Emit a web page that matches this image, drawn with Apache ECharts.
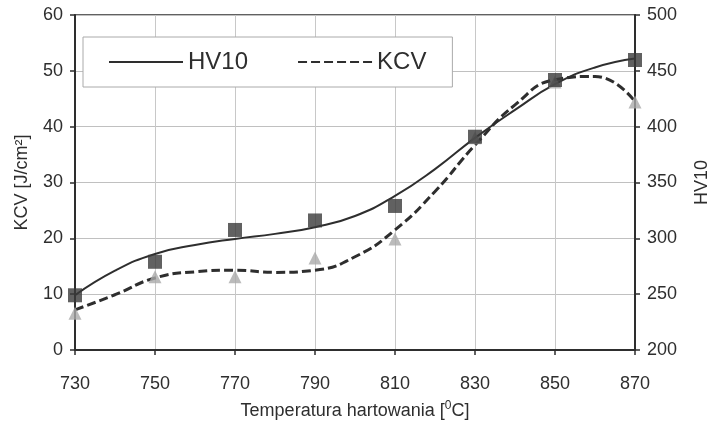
<!DOCTYPE html>
<html>
<head>
<meta charset="utf-8">
<script src="https://cdn.jsdelivr.net/npm/echarts@6/dist/echarts.min.js"></script>
<style>
  html, body { margin: 0; padding: 0; background: #fff; }
  #chart { width: 711px; height: 425px; }
</style>
</head>
<body>
<div id="chart"></div>
<script>
// temperatures every 10 degC, labels shown every 20
const temps = ['730', '740', '750', '760', '770', '780', '790', '800',
  '810', '820', '830', '840', '850', '860', '870'];

// measured points (only at 730, 750, ... 870)
const hvPoints = [249, null, 279, null, 307.5, null, 316, null,
  329, null, 391, null, 441.8, null, 459.7];
const kcvPoints = [6.6, null, 13.1, null, 13.1, null, 16.5, null,
  19.9, null, 38, null, 48, null, 44.4];

// trend curves
const hvTrend = [249, 271, 286, 294, 299.5, 304, 310, 320,
  338, 362, 390, 415, 438, 453, 461];
const kcvTrend = [7.2, 9.9, 12.9, 14.0, 14.3, 13.9, 14.3, 16.7,
  21.5, 28.4, 36.7, 43.9, 48.4, 49, 44.5];

const FONT = 'Liberation Sans';
const DARK = '#2e2e2e';

var myChart = echarts.init(document.getElementById('chart'), null, { renderer: 'canvas' });

let option = {
  backgroundColor: '#fff',
  animation: false,
  textStyle: { fontFamily: FONT, color: DARK },
  grid: {
    left: 75, right: 76, top: 15, bottom: 75,
    outerBoundsMode: 'none',
    show: true,
    borderColor: DARK,
    borderWidth: 1.5
  },
  legend: {
    data: ['HV10', 'KCV'],
    left: 83,
    top: 37,
    padding: [13, 26, 13, 25],
    itemWidth: 74,
    itemHeight: 24,
    itemGap: 49,
    backgroundColor: '#fff',
    borderColor: '#aaa',
    borderWidth: 1,
    itemStyle: { opacity: 0 },
    textStyle: { fontFamily: FONT, fontSize: 24, color: DARK }
  },
  xAxis: {
    type: 'category',
    data: temps,
    boundaryGap: false,
    name: 'Temperatura hartowania [{s|0}C]',
    nameLocation: 'middle',
    nameGap: 50,
    nameTextStyle: {
      fontFamily: FONT, fontSize: 18, color: DARK,
      rich: { s: { fontSize: 12, verticalAlign: 'bottom', padding: [0, 0, 10, 0], color: DARK } }
    },
    axisLine: { lineStyle: { color: DARK, width: 2 } },
    axisTick: { interval: 1, length: 5, lineStyle: { color: DARK, width: 1.5 } },
    axisLabel: { interval: 1, margin: 25, fontSize: 18, color: DARK },
    splitLine: { show: true, interval: 1, lineStyle: { color: '#c8c8c8', width: 1 } }
  },
  yAxis: [
    {
      type: 'value',
      min: 0, max: 60, interval: 10,
      name: 'KCV [J/cm²]',
      nameLocation: 'middle',
      nameRotate: 90,
      nameGap: 44,
      nameTextStyle: { fontFamily: FONT, fontSize: 18, color: DARK },
      axisLine: { show: true, lineStyle: { color: DARK, width: 2 } },
      axisTick: { show: true, length: 5, lineStyle: { color: DARK, width: 1.5 } },
      axisLabel: { margin: 12, fontSize: 18, color: DARK },
      splitLine: { show: true, lineStyle: { color: '#c0c0c0', width: 1 } }
    },
    {
      type: 'value',
      min: 200, max: 500, interval: 50,
      name: 'HV10',
      nameLocation: 'middle',
      nameRotate: 90,
      nameGap: 58,
      nameTextStyle: { fontFamily: FONT, fontSize: 18, color: DARK },
      axisLine: { show: true, lineStyle: { color: DARK, width: 2 } },
      axisTick: { show: true, length: 5, lineStyle: { color: DARK, width: 1.5 } },
      axisLabel: { margin: 12, fontSize: 18, color: DARK },
      splitLine: { show: false }
    }
  ],
  series: [
    {
      name: 'KCV',
      type: 'line',
      yAxisIndex: 0,
      data: kcvTrend,
      smooth: 0.5,
      symbol: 'none',
      z: 3,
      lineStyle: { color: DARK, width: 3, type: [9, 4] },
      itemStyle: { color: DARK }
    },
    {
      name: 'HV10',
      type: 'line',
      yAxisIndex: 1,
      data: hvTrend,
      smooth: 0.5,
      symbol: 'none',
      z: 3,
      lineStyle: { color: DARK, width: 2 },
      itemStyle: { color: DARK }
    },
    {
      name: 'KCV pts',
      type: 'scatter',
      yAxisIndex: 0,
      data: kcvPoints,
      symbol: 'triangle',
      symbolSize: 13,
      z: 4,
      itemStyle: { color: '#aaa' }
    },
    {
      name: 'HV10 pts',
      type: 'scatter',
      yAxisIndex: 1,
      data: hvPoints,
      symbol: 'rect',
      symbolSize: 14,
      z: 5,
      itemStyle: { color: '#3a3a3a' }
    }
  ]
};
myChart.setOption(option);
</script>
</body>
</html>
